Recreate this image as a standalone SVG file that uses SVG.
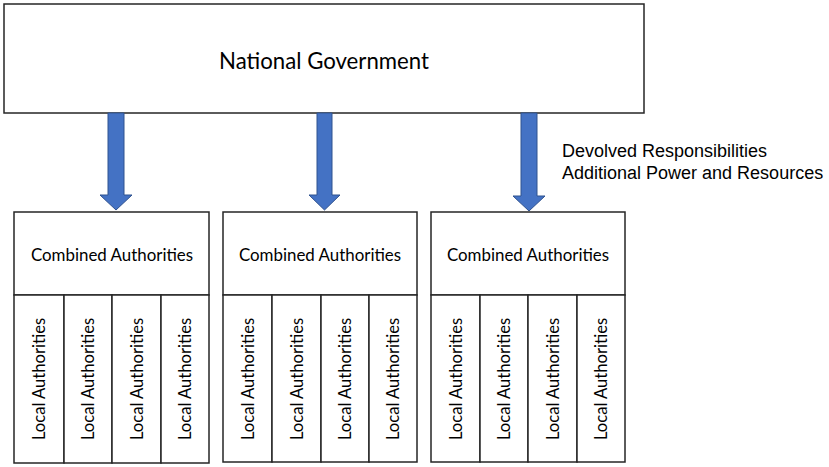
<svg xmlns="http://www.w3.org/2000/svg" width="829" height="467" viewBox="0 0 829 467">
<style>
.box{fill:#fff;stroke:#262626;stroke-width:1.5}
.arr{fill:#4472C4;stroke:#2F528F;stroke-width:1}
.t{font-family:Lato,"Open Sans",sans-serif;fill:#000;text-anchor:middle;dominant-baseline:central}
.ng{font-size:22.2px}
.ca{font-size:16.9px}
.la{font-size:16.6px}
.lbl{font-family:"Liberation Sans",Arial,sans-serif;font-size:18px;fill:#000}
</style>
<rect width="829" height="467" fill="#fff"/>
<g id="national">
<rect class="box" x="4" y="4" width="640" height="109"/>
<text class="t ng" x="324" y="60">National Government</text>
</g>
<g id="connectors">
<polygon class="arr" points="108,113 124,113 124,195 132,195 116,210 100,195 108,195"/>
<polygon class="arr" points="317,113 332,113 332,195 340,195 324.5,210 309,195 317,195"/>
<polygon class="arr" points="521,113 537,113 537,196 545,196 529,211 513,196 521,196"/>
</g>
<g id="label">
<text class="lbl" x="562" y="157">Devolved Responsibilities</text>
<text class="lbl" x="562" y="179">Additional Power and Resources</text>
</g>
<g id="group1">
<rect class="box" x="14" y="212" width="195" height="83"/>
<text class="t ca" x="112" y="254">Combined Authorities</text>
<rect class="box" x="14" y="295" width="50" height="168"/>
<rect class="box" x="64" y="295" width="48" height="168"/>
<rect class="box" x="112" y="295" width="49" height="168"/>
<rect class="box" x="161" y="295" width="48" height="168"/>
<text class="t la" transform="translate(39,379) rotate(-90)">Local Authorities</text>
<text class="t la" transform="translate(88,379) rotate(-90)">Local Authorities</text>
<text class="t la" transform="translate(136.5,379) rotate(-90)">Local Authorities</text>
<text class="t la" transform="translate(185,379) rotate(-90)">Local Authorities</text>
</g>
<g id="group2">
<rect class="box" x="223" y="212" width="194" height="83"/>
<text class="t ca" x="320" y="254">Combined Authorities</text>
<rect class="box" x="223" y="295" width="49" height="167"/>
<rect class="box" x="272" y="295" width="49" height="167"/>
<rect class="box" x="321" y="295" width="48" height="167"/>
<rect class="box" x="369" y="295" width="48" height="167"/>
<text class="t la" transform="translate(247.5,379) rotate(-90)">Local Authorities</text>
<text class="t la" transform="translate(296.5,379) rotate(-90)">Local Authorities</text>
<text class="t la" transform="translate(345,379) rotate(-90)">Local Authorities</text>
<text class="t la" transform="translate(393,379) rotate(-90)">Local Authorities</text>
</g>
<g id="group3">
<rect class="box" x="431" y="212" width="194" height="83"/>
<text class="t ca" x="528" y="254">Combined Authorities</text>
<rect class="box" x="431" y="295" width="49" height="167"/>
<rect class="box" x="480" y="295" width="48" height="167"/>
<rect class="box" x="528" y="295" width="49" height="167"/>
<rect class="box" x="577" y="295" width="48" height="167"/>
<text class="t la" transform="translate(455.5,379) rotate(-90)">Local Authorities</text>
<text class="t la" transform="translate(504,379) rotate(-90)">Local Authorities</text>
<text class="t la" transform="translate(552.5,379) rotate(-90)">Local Authorities</text>
<text class="t la" transform="translate(601,379) rotate(-90)">Local Authorities</text>
</g>
</svg>
